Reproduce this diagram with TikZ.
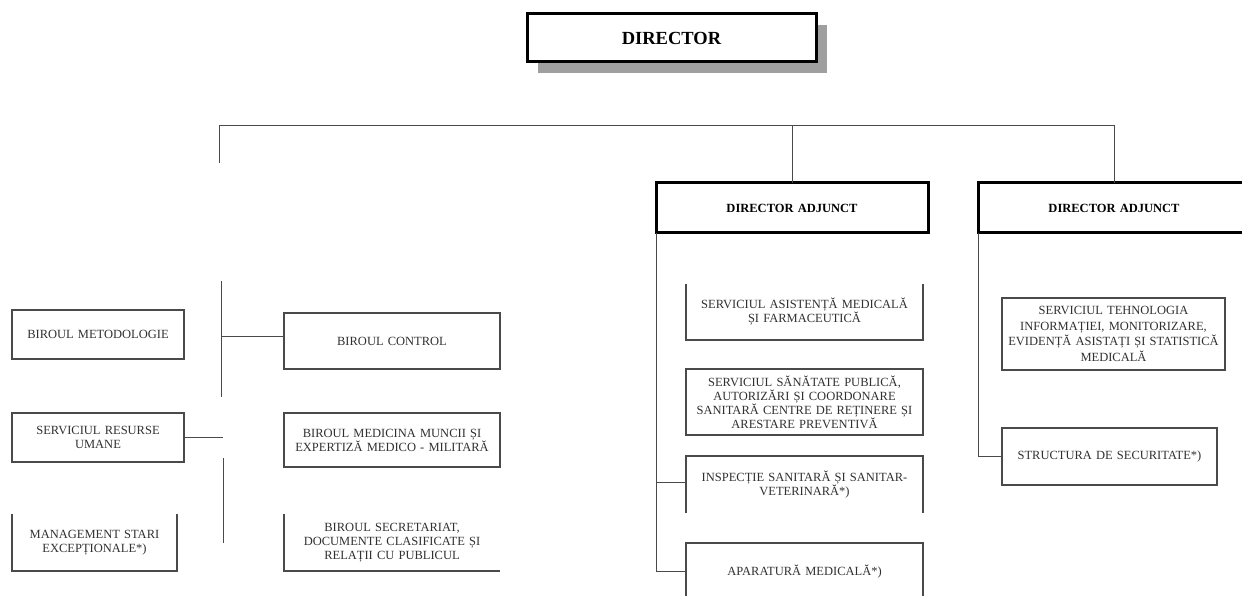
\documentclass[tikz,border=0pt]{standalone}
\usepackage{fontspec}
\setmainfont{Liberation Serif}
\usetikzlibrary{positioning, shadows}
\definecolor{ink}{HTML}{303030}
\definecolor{rule}{HTML}{4A4A4A}
\tikzstyle{unit} = [rectangle, draw=rule, line width=1.2pt, outer sep=0pt, inner xsep=0pt, inner ysep=2pt, text centered, align=center, text=ink, font=\fontsize{12.5}{14}\selectfont]
\tikzstyle{open} = [unit, draw=none]
\tikzstyle{head} = [unit, draw=black, line width=3pt, text=black, font=\bfseries\fontsize{12.5}{14}\selectfont]
\tikzstyle{side} = [draw=rule, line width=1.2pt]
\tikzstyle{edge} = [draw=rule, line width=1pt]

\begin{document}
\begin{tikzpicture}[x=1pt, y=1pt]
\useasboundingbox (0,0) rectangle (1242,596);
\clip (0,0) rectangle (1242,596);
% Top
\node (director) [head, fill=white, minimum width=289pt, text width=289pt, minimum height=48pt, font=\bfseries\fontsize{18.5}{20}\selectfont, drop shadow={shadow xshift=11pt, shadow yshift=-11pt, fill=gray!75, opacity=1}] at (671.5,558) {DIRECTOR};
% Deputies
\node (adj1) [head, minimum width=272pt, text width=272pt, minimum height=50pt] at (792,388) {DIRECTOR ADJUNCT};
\node (adj2) [head, minimum width=272pt, text width=272pt, minimum height=50pt, right=50pt of adj1] {DIRECTOR ADJUNCT};
% Column 1
\node (metod) [unit, minimum width=172pt, text width=172pt, minimum height=49pt] at (98,261.5) {BIROUL METODOLOGIE};
\node (resurse) [unit, line width=2pt, minimum width=172pt, text width=172pt, minimum height=49pt, below=54pt of metod] {SERVICIUL RESURSE\\UMANE};
\node (mgmt) [open, minimum width=165pt, text width=165pt, minimum height=57pt, below=52pt of resurse, xshift=-3.5pt] {MANAGEMENT STARI\\EXCEPȚIONALE*)};
% Column 2
\node (control) [unit, minimum width=216pt, text width=216pt, minimum height=56pt] at (392,255) {BIROUL CONTROL};
\node (medicina) [unit, minimum width=216pt, text width=216pt, minimum height=54pt, below=44pt of control] {BIROUL MEDICINA MUNCII ȘI\\EXPERTIZĂ MEDICO - MILITARĂ};
\node (secret) [open, minimum width=216pt, text width=216pt, minimum height=57pt, below=47pt of medicina] {BIROUL SECRETARIAT,\\DOCUMENTE CLASIFICATE ȘI\\RELAȚII CU PUBLICUL};
% Column 3
\node (asist) [open, minimum width=237pt, text width=237pt, minimum height=56pt] at (804.5,284) {SERVICIUL ASISTENȚĂ MEDICALĂ\\ȘI FARMACEUTICĂ};
\node (sanatate) [unit, minimum width=237pt, text width=237pt, minimum height=66pt, below=29pt of asist] {SERVICIUL SĂNĂTATE PUBLICĂ,\\AUTORIZĂRI ȘI COORDONARE\\SANITARĂ CENTRE DE REȚINERE ȘI\\ARESTARE PREVENTIVĂ};
\node (inspectie) [open, minimum width=237pt, text width=237pt, minimum height=57pt, below=21pt of sanatate] {INSPECȚIE SANITARĂ ȘI SANITAR-\\VETERINARĂ*)};
\node (aparat) [unit, minimum width=237pt, text width=237pt, minimum height=58pt, below=30pt of inspectie] {APARATURĂ MEDICALĂ*)};
% Column 4
\node (tehno) [unit, minimum width=223pt, text width=223pt, minimum height=72pt, font=\fontsize{12.5}{15.5}\selectfont] at (1113.5,262) {SERVICIUL TEHNOLOGIA\\INFORMAȚIEI, MONITORIZARE,\\EVIDENȚĂ ASISTAȚI ȘI STATISTICĂ\\MEDICALĂ};
\node (secur) [unit, minimum width=215pt, text width=215pt, minimum height=57pt, below=58pt of tehno, xshift=-4pt] {STRUCTURA DE SECURITATE*)};

% Open sides
\draw [side] (mgmt.north west) -- (mgmt.south west) -- (mgmt.south east) -- (mgmt.north east);
\draw [side] (secret.north west) -- (secret.south west) -- (secret.south east);
\draw [side] (asist.north west) -- (asist.south west) -- (asist.south east) -- (asist.north east);
\draw [side] (inspectie.south west) -- (inspectie.north west) -- (inspectie.north east) -- (inspectie.south east);

% Lines
\coordinate (bus) at (219,470);
\coordinate (stub) at (219,433);
\draw [edge] (stub) -- (bus) -| (adj2.north);
\draw [edge] (adj1.north) -- (adj1.north |- bus);
\coordinate (trunkA) at (221,315);
\coordinate (trunkB) at (221,199);
\draw [edge] (trunkA) -- (trunkB);
\draw [edge] ([yshift=4pt]control.west) -- ([yshift=4pt]control.west -| trunkA);
\coordinate (trunkC) at (223,138);
\coordinate (trunkD) at (223,53);
\draw [edge] (trunkC) -- (trunkD);
\draw [edge] (resurse.east) -- (resurse.east -| trunkC);
\draw [edge] (adj1.south west) |- (aparat.west);
\draw [edge] ([yshift=1.5pt]inspectie.west) -- ([yshift=1.5pt]inspectie.west -| adj1.south west);
\draw [edge] (adj2.south west) |- (secur.west);
\end{tikzpicture}
\end{document}
